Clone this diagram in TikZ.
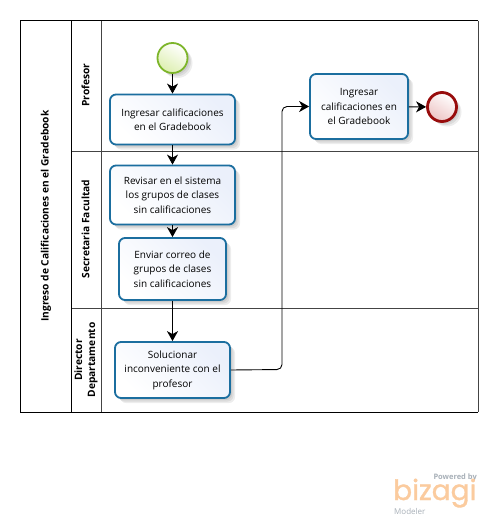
\documentclass[tikz,border=0pt]{standalone}
\usepackage{fontspec}
\setmainfont{Open Sans}
\newfontfamily\logofont[FakeBold=1.2]{Poppins}
\usetikzlibrary{arrows.meta}
\definecolor{taskline}{HTML}{1B6E9F}
\definecolor{taskfill}{HTML}{EBF0FB}
\definecolor{startline}{HTML}{7DB52A}
\definecolor{startfill}{HTML}{DDEFB0}
\definecolor{endline}{HTML}{980C0C}
\definecolor{endfill}{HTML}{EDC4C4}
\definecolor{laneline}{HTML}{444444}
\definecolor{logoorange}{HTML}{FBCB9E}
\definecolor{logogray}{HTML}{A8B0B8}
\tikzset{
  softshadow/.style={preaction={fill=black,fill opacity=0.07,transform canvas={shift={(#1,-#1)}}}},
  tasklook/.style={rectangle,rounded corners=6pt,draw=taskline,line width=1.8pt,
    left color=white,right color=taskfill,shading angle=135,align=center,inner sep=0pt,
    font=\fontsize{10}{14.5}\selectfont,
    softshadow=2pt,softshadow=3.5pt,softshadow=5pt},
  startlook/.style={circle,draw=startline,line width=1.8pt,minimum size=30pt,inner sep=0pt,
    top color=white,bottom color=startfill,shading angle=-30,
    softshadow=2pt,softshadow=3.5pt,softshadow=5pt},
  endlook/.style={circle,draw=endline,line width=2.8pt,minimum size=29pt,inner sep=0pt,
    top color=white,bottom color=endfill,shading angle=-30,
    softshadow=2pt,softshadow=3.5pt,softshadow=5pt},
  flow/.style={draw=black,line width=0.9pt,-{Stealth[length=10pt,width=11pt,inset=3pt]}},
  lanetitle/.style={rotate=90,align=center,font=\fontsize{10.2}{13}\selectfont\bfseries},
  poolrule/.style={draw=black,line width=1pt},
  lanerule/.style={draw=laneline,line width=0.9pt}
}
\begin{document}
\begin{tikzpicture}[x=1pt,y=-1pt]
\useasboundingbox (0,0) rectangle (500,525);
\fill[white] (0,0) rectangle (500,525);
% pool and lanes
\draw[lanerule] (71,151) -- (478,151);
\draw[lanerule] (71,308) -- (478,308);
\draw[lanerule] (101,20.5) -- (101,412);
\draw[lanerule] (478,20.5) -- (478,412);
\draw[poolrule] (71,20.5) -- (71,412);
\draw[poolrule] (478,20.5) -| (20.5,412) -- (478,412);
\node[lanetitle] (pooltitle) at (46,216) {Ingreso de Calificaciones en el Gradebook};
\node[lanetitle] (laneA) at (85.5,85) {Profesor};
\node[lanetitle] (laneB) at (85.5,229) {Secretaria Facultad};
\node[lanetitle] (laneC) at (86,360) {Director\\Departamento};
% events and tasks
\node[startlook] (start) at (172.5,58) {};
\node[endlook] (finish) at (442,107) {};
\node[tasklook,minimum width=125pt,minimum height=50pt] (t1) at (172.5,119.5) {Ingresar calificaciones\\en el Gradebook};
\node[tasklook,minimum width=125pt,minimum height=59pt] (t2) at (172.5,195) {Revisar en el sistema\\los grupos de clases\\sin calificaciones};
\node[tasklook,minimum width=107pt,minimum height=62pt] (t3) at (172.5,269) {Enviar correo de\\grupos de clases\\sin calificaciones};
\node[tasklook,minimum width=115pt,minimum height=56pt] (t4) at (172.5,370) {Solucionar\\inconveniente con el\\profesor};
\node[tasklook,minimum width=98pt,minimum height=65pt] (t5) at (359,106.5) {Ingresar\\calificaciones en\\el Gradebook};
% flows
\draw[flow] (start) -- (t1);
\draw[flow] (t1) -- (t2);
\draw[flow] (t2) -- (t3);
\draw[flow] (t3) -- (t4);
\draw[flow] (t5) -- (finish);
\draw[flow,rounded corners=5pt] (t4.east) -- (282,369.5) -- (282,106.5) -- (t5.west);
% logo
\node[anchor=base east,inner sep=0pt,text=logogray,font=\fontsize{7.5}{8}\selectfont\bfseries] (powered) at (477,479) {Powered by};
\node[anchor=base west,inner sep=0pt,text=logoorange,font=\logofont\fontsize{28}{28}\selectfont] (logo) at (393,500) {bizagi};
\node[anchor=base west,inner sep=0pt,text=logogray,font=\fontsize{8}{8}\selectfont] (modeler) at (394,514) {Modeler};
\end{tikzpicture}
\end{document}
